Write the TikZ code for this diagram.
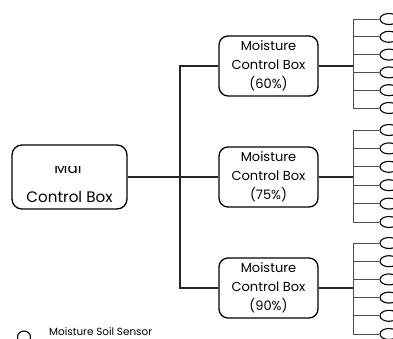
\documentclass[tikz,border=0pt]{standalone}
\usepackage{fontspec}
\newfontfamily\rfont{Poppins}
\usetikzlibrary{shapes.geometric}
\begin{document}
\begin{tikzpicture}[x=1pt,y=-1pt,
  mbox/.style={draw=black,line width=1.3pt,rounded corners=9pt,minimum width=99pt,minimum height=60pt,inner sep=0pt,align=center,font=\rfont\fontsize{13}{19}\selectfont},
  bigbox/.style={draw=black,line width=1.3pt,rounded corners=10pt,minimum width=115pt,minimum height=64pt,inner sep=0pt},
  bigtxt/.style={font=\rfont\fontsize{15.2}{18}\selectfont,inner sep=0pt},
  conn/.style={draw=black!85,line width=1.2pt},
  branch/.style={draw=black!70,line width=1pt},
  sensor/.style={ellipse,draw=black,line width=1.1pt,minimum width=18pt,minimum height=11pt,inner sep=0pt}]
\useasboundingbox (0,0) rectangle (393,338);
\clip (0,0) rectangle (393,338);
% main box
\node[bigbox] (main) at (69.5,177) {};
\node[bigtxt] (mainlbl) at (69.5,197) {Control Box};
\begin{scope}
\clip (20,166.5) rectangle (120,180);
\node[bigtxt,anchor=base] (maintitle) at (68,173.5) {Mai};
\end{scope}
% moisture boxes
\node[mbox] (m1) at (268.5,66) {Moisture\\Control Box\\(60\%)};
\node[mbox] (m2) at (268.5,177) {Moisture\\Control Box\\(75\%)};
\node[mbox] (m3) at (268.5,288) {Moisture\\Control Box\\(90\%)};
% main trunk
\coordinate (t1) at (180,66);
\coordinate (t3) at (180,288);
\draw[conn] (m1.west) -- (t1) -- (t3) -- (m3.west);
\draw[conn] (main.east) -- (main.east -| t1);
\draw[conn] (m2.west) -- (m2.west -| t1);
% sensor groups
\foreach \g/\ya/\yc/\st in {1/19/66/17.8, 2/130/177/18.4, 3/243/288/18.2}{
  \coordinate (g\g) at (353,\yc);
  \draw[conn] (m\g.east) -- (g\g);
  \foreach \i in {0,...,5}{
    \node[sensor] (s\g\i) at (389,{\ya+\i*\st}) {};
    \coordinate (b\g\i) at (353,{\ya+\i*\st});
    \draw[branch] (b\g\i) -- (s\g\i.west);
  }
  \draw[branch] (b\g0) -- (b\g5);
}
% legend
\node[sensor,minimum width=13pt,minimum height=12pt] (leg) at (24,337) {};
\node[font=\rfont\fontsize{10.4}{12}\selectfont,anchor=west,inner sep=0pt] (legtxt) at (49,331.5) {Moisture Soil Sensor};
\end{tikzpicture}
\end{document}
